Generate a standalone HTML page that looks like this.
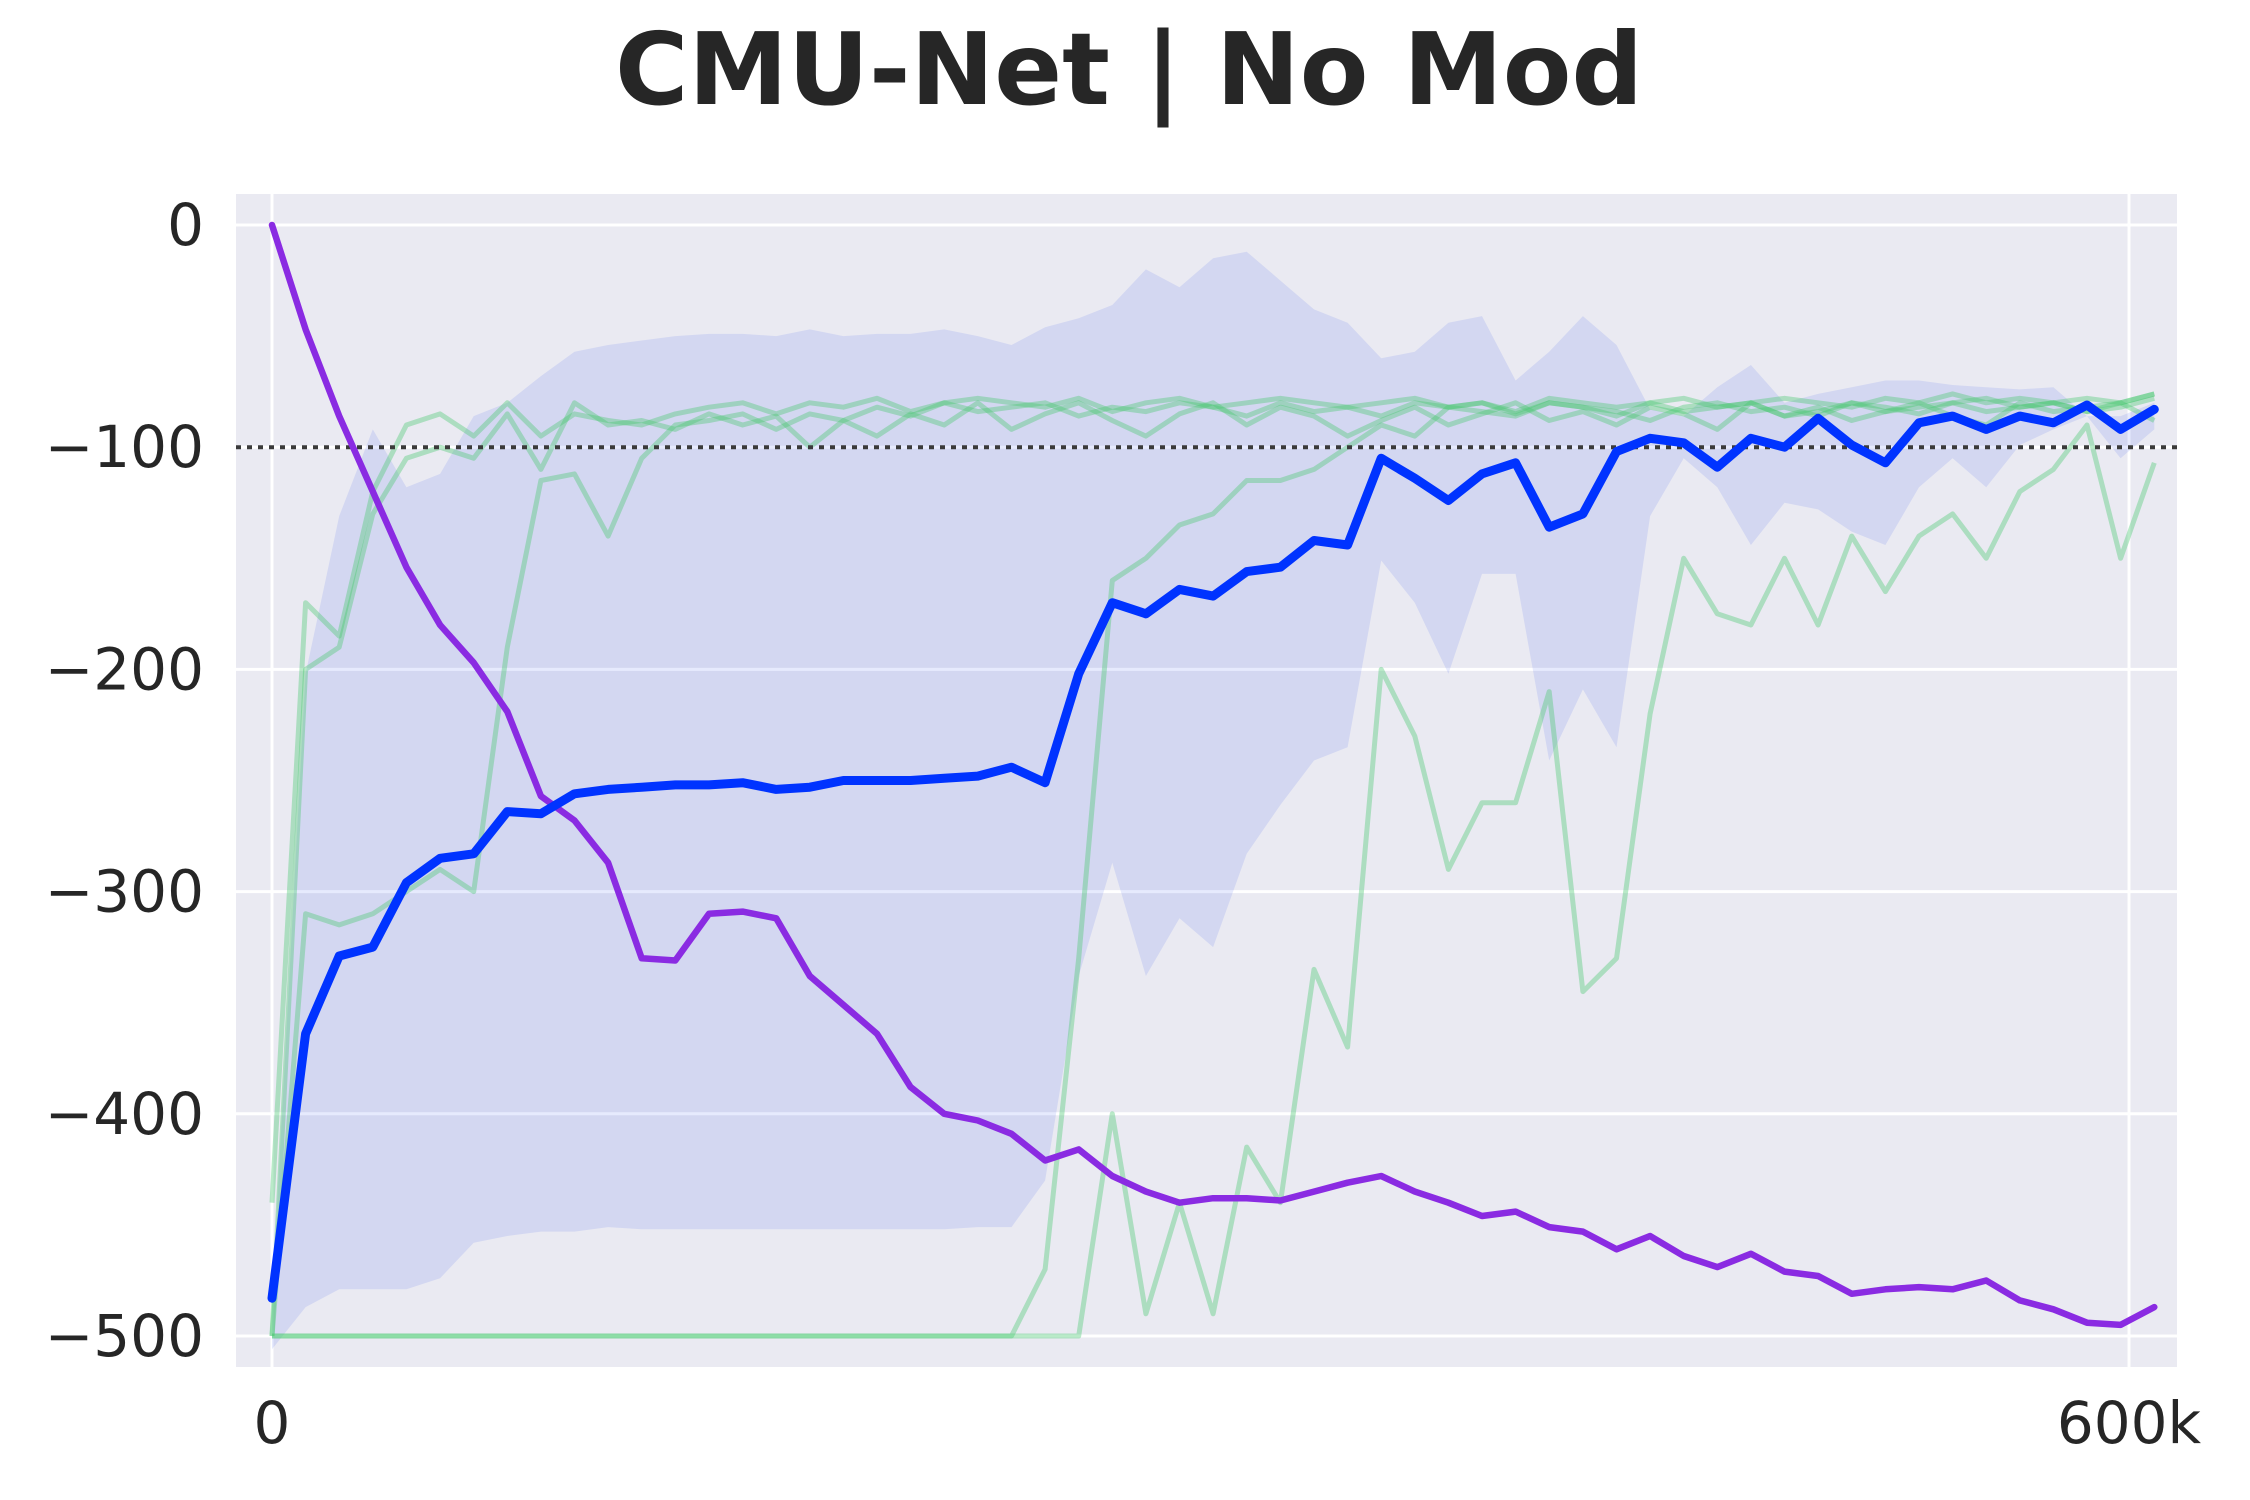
<!DOCTYPE html>
<html><head><meta charset="utf-8"><style>
html,body{margin:0;padding:0;background:#fff;}
svg{display:block;font-family:"DejaVu Sans","Liberation Sans",sans-serif;}
</style></head><body>
<svg id="chart" width="2250" height="1500" viewBox="0 0 2250 1500" xmlns="http://www.w3.org/2000/svg">
<text x="1129" y="104" text-anchor="middle" font-size="100" font-weight="bold" fill="#262626">CMU-Net | No Mod</text>
<rect x="236" y="194" width="1941" height="1173" fill="#eaeaf2"/>
<g id="grid"></g><g id="band"></g><g id="greens"></g><g id="ref"></g><g id="lines"></g><g id="ticks"></g>
</svg>
<script>
const step = 10860;
const yTicks = [0,-100,-200,-300,-400,-500];
const xTicks = [0,600000];
const xTickLabels = ["0","600k"];
const purple = [0,-47,-86,-120,-154,-180,-197,-219,-257,-268,-287,-330,-331,-310,-309,-312,-338,-351,-364,-388,-400,-403,-409,-421,-416,-428,-435,-440,-438,-438,-439,-435,-431,-428,-435,-440,-446,-444,-451,-453,-461,-455,-464,-469,-463,-471,-473,-481,-479,-478,-479,-475,-484,-488,-494,-495,-487];
const blue = [-483,-364,-329,-325,-296,-285,-283,-264,-265,-256,-254,-253,-252,-252,-251,-254,-253,-250,-250,-250,-249,-248,-244,-251,-202,-170,-175,-164,-167,-156,-154,-142,-144,-105,-114,-124,-112,-107,-136,-130,-102,-96,-98,-109,-96,-100,-87,-99,-107,-89,-86,-92,-86,-89,-81,-92,-83];
const bandUpper = [-484,-202,-131,-92,-118,-112,-86,-80,-68,-57,-54,-52,-50,-49,-49,-50,-47,-50,-49,-49,-47,-50,-54,-46,-42,-36,-20,-28,-15,-12,-25,-38,-44,-60,-57,-44,-41,-70,-57,-41,-54,-83,-86,-73,-63,-80,-76,-73,-70,-70,-72,-73,-74,-73,-86,-86,-80];
const bandLower = [-506,-487,-479,-479,-479,-474,-458,-455,-453,-453,-451,-452,-452,-452,-452,-452,-452,-452,-452,-452,-452,-451,-451,-430,-338,-287,-338,-312,-325,-283,-261,-241,-235,-151,-170,-202,-157,-157,-241,-209,-235,-131,-105,-118,-144,-125,-128,-138,-144,-118,-105,-118,-99,-92,-86,-105,-92];
const green1 = [-440,-170,-185,-120,-90,-85,-95,-80,-95,-85,-88,-90,-85,-82,-80,-85,-80,-82,-78,-84,-80,-78,-80,-82,-78,-84,-80,-78,-82,-80,-78,-80,-82,-80,-78,-82,-80,-84,-78,-80,-82,-80,-78,-82,-80,-78,-80,-82,-78,-80,-76,-80,-78,-80,-78,-80,-76];
const green2 = [-500,-200,-190,-130,-105,-100,-105,-85,-110,-80,-90,-88,-92,-85,-90,-86,-100,-88,-95,-85,-90,-80,-92,-85,-80,-88,-95,-85,-80,-90,-82,-86,-95,-88,-82,-90,-85,-80,-88,-84,-90,-82,-85,-92,-80,-86,-82,-88,-84,-80,-86,-90,-80,-84,-82,-80,-88];
const green3 = [-500,-310,-315,-310,-300,-290,-300,-190,-115,-112,-140,-105,-90,-88,-85,-92,-85,-88,-82,-86,-80,-84,-82,-80,-86,-82,-84,-80,-82,-86,-80,-84,-82,-86,-80,-82,-84,-86,-80,-82,-84,-88,-82,-80,-84,-82,-86,-80,-84,-82,-80,-84,-82,-80,-84,-82,-78];
const green4 = [-500,-500,-500,-500,-500,-500,-500,-500,-500,-500,-500,-500,-500,-500,-500,-500,-500,-500,-500,-500,-500,-500,-500,-470,-330,-160,-150,-135,-130,-115,-115,-110,-100,-90,-95,-82,-80,-85,-80,-82,-86,-80,-84,-82,-80,-86,-84,-80,-82,-85,-80,-78,-82,-80,-84,-80,-76];
const green5 = [-500,-500,-500,-500,-500,-500,-500,-500,-500,-500,-500,-500,-500,-500,-500,-500,-500,-500,-500,-500,-500,-500,-500,-500,-500,-400,-490,-440,-490,-415,-440,-335,-370,-200,-230,-290,-260,-260,-210,-345,-330,-220,-150,-175,-180,-150,-180,-140,-165,-140,-130,-150,-120,-110,-90,-150,-107];
const greens = [green1,green2,green3,green4,green5];

const NS = "http://www.w3.org/2000/svg";
const X = v => 272 + v/600000*1857;
const Y = v => 225 + (-v)/500*1111;
const px = i => X(i*step);
function mk(tag, attrs, parent){const e=document.createElementNS(NS,tag);for(const k in attrs)e.setAttribute(k,attrs[k]);document.getElementById(parent).appendChild(e);return e;}
function pts(arr){return arr.map((v,i)=>px(i).toFixed(1)+","+Y(v).toFixed(1)).join(" ");}

yTicks.forEach(t=>{
  const g=mk("line",{x1:236,x2:2177,y1:Y(t),y2:Y(t),stroke:"#fff","stroke-width":3},"grid");
  
  
  const l=mk("text",{x:204,y:Y(t)+20,"text-anchor":"end","font-size":58,fill:"#262626"},"ticks");
  l.textContent=String(t).replace("-","\u2212");
  
  
});
xTicks.forEach((t,i)=>{
  const g=mk("line",{x1:X(t),x2:X(t),y1:194,y2:1367,stroke:"#fff","stroke-width":3},"grid");
  
  
  const l=mk("text",{x:X(t),y:1443,"text-anchor":"middle","font-size":58,fill:"#262626"},"ticks");
  l.textContent=xTickLabels[i];
  
  
});
const bandPts = pts(bandUpper)+" "+bandLower.map((v,i)=>[px(i).toFixed(1),Y(v).toFixed(1)]).reverse().map(p=>p.join(",")).join(" ");
const band=mk("polygon",{points:bandPts,fill:"rgba(60,90,240,0.13)"},"band");


greens.forEach(g=>{
  const l=mk("polyline",{points:pts(g),fill:"none",stroke:"rgba(70,200,110,0.38)","stroke-width":5,"stroke-linejoin":"round"},"greens");
  
  
});
const r=mk("line",{x1:236,x2:2177,y1:Y(-100),y2:Y(-100),stroke:"#3a3a3a","stroke-width":4,"stroke-dasharray":"5,6"},"ref");


const pl=mk("polyline",{points:pts(purple),fill:"none",stroke:"#8a2be2","stroke-width":6.5,"stroke-linejoin":"round","stroke-linecap":"round"},"lines");


const bl=mk("polyline",{points:pts(blue),fill:"none",stroke:"#0033ff","stroke-width":9,"stroke-linejoin":"round","stroke-linecap":"round"},"lines");


</script>
</body></html>
